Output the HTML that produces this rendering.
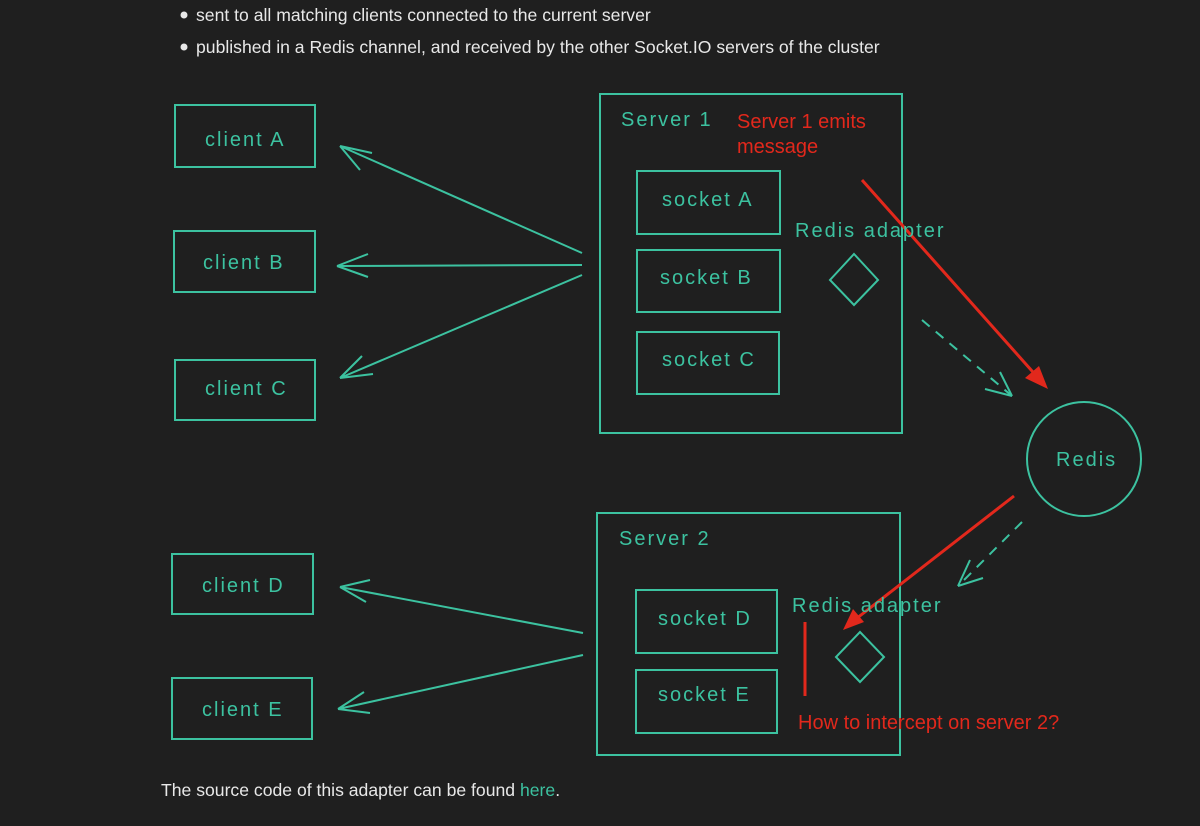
<!DOCTYPE html>
<html><head><style>
body{margin:0;background:#1f1f1f;width:1200px;height:826px;overflow:hidden;font-family:"Liberation Sans",sans-serif}
svg{position:absolute;left:0;top:0}
.t{fill:#3cc2a0;font-family:"Liberation Sans",sans-serif;font-size:20px;letter-spacing:2px}
.r{fill:#e2281c;font-size:20px;font-family:"Liberation Sans",sans-serif}
.w{fill:#e8e8e8;font-size:17.6px;font-family:"Liberation Sans",sans-serif}
</style></head><body>
<svg width="1200" height="826" viewBox="0 0 1200 826">
<g fill="none" stroke="#3cc2a0" stroke-width="2">
<rect x="175" y="105" width="140" height="62"/>
<rect x="174" y="231" width="141" height="61"/>
<rect x="175" y="360" width="140" height="60"/>
<rect x="172" y="554" width="141" height="60"/>
<rect x="172" y="678" width="140" height="61"/>
<rect x="600" y="94" width="302" height="339"/>
<rect x="637" y="171" width="143" height="63"/>
<rect x="637" y="250" width="143" height="62"/>
<rect x="637" y="332" width="142" height="62"/>
<polygon points="854,254 878,280 854,305 830,280"/>
<rect x="597" y="513" width="303" height="242"/>
<rect x="636" y="590" width="141" height="63"/>
<rect x="636" y="670" width="141" height="63"/>
<polygon points="860,632 884,657 860,682 836,657"/>
<circle cx="1084" cy="459" r="57"/>
<path d="M582,253 L340,146 M340,146 L372,153 M340,146 L360,170"/>
<path d="M582,265 L337,266 M337,266 L368,254 M337,266 L368,277"/>
<path d="M582,275 L340,378 M340,378 L362,356 M340,378 L373,374"/>
<path d="M583,633 L340,587 M340,587 L370,580 M340,587 L366,602"/>
<path d="M583,655 L338,709 M338,709 L364,692 M338,709 L370,713"/>
<path d="M922,320 L1012,396" stroke-dasharray="10 8"/>
<path d="M1012,396 L985,389 M1012,396 L1000,372"/>
<path d="M1022,522 L958,586" stroke-dasharray="10 8"/>
<path d="M958,586 L970,560 M958,586 L983,578"/>
</g>
<g stroke="#e2281c" stroke-width="3" fill="#e2281c">
<line x1="862" y1="180" x2="1040" y2="380"/>
<polygon points="1048,389 1025,378 1039,366" stroke="none"/>
<line x1="1014" y1="496" x2="852" y2="622"/>
<polygon points="843,630 853,609 864,622" stroke="none"/>
<line x1="805" y1="622" x2="805" y2="696"/>
</g>
<text class="t" x="205" y="146">client A</text>
<text class="t" x="203" y="269">client B</text>
<text class="t" x="205" y="395">client C</text>
<text class="t" x="202" y="592">client D</text>
<text class="t" x="202" y="716">client E</text>
<text class="t" x="621" y="126">Server 1</text>
<text class="t" x="619" y="545">Server 2</text>
<text class="t" x="662" y="206">socket A</text>
<text class="t" x="660" y="284">socket B</text>
<text class="t" x="662" y="366">socket C</text>
<text class="t" x="658" y="625">socket D</text>
<text class="t" x="658" y="701">socket E</text>
<text class="t" x="795" y="237">Redis adapter</text>
<text class="t" x="792" y="612">Redis adapter</text>
<text class="t" x="1056" y="466">Redis</text>
<text class="r" x="737" y="128">Server 1 emits</text>
<text class="r" x="737" y="153">message</text>
<text class="r" x="798" y="729">How to intercept on server 2?</text>
<circle cx="184" cy="15" r="3.5" fill="#e8e8e8"/>
<circle cx="184" cy="47" r="3.5" fill="#e8e8e8"/>
<text class="w" x="196" y="21">sent to all matching clients connected to the current server</text>
<text class="w" x="196" y="53">published in a Redis channel, and received by the other Socket.IO servers of the cluster</text>
<text class="w" x="161" y="796">The source code of this adapter can be found <tspan fill="#3cc2a0">here</tspan>.</text>
</svg>
</body></html>
